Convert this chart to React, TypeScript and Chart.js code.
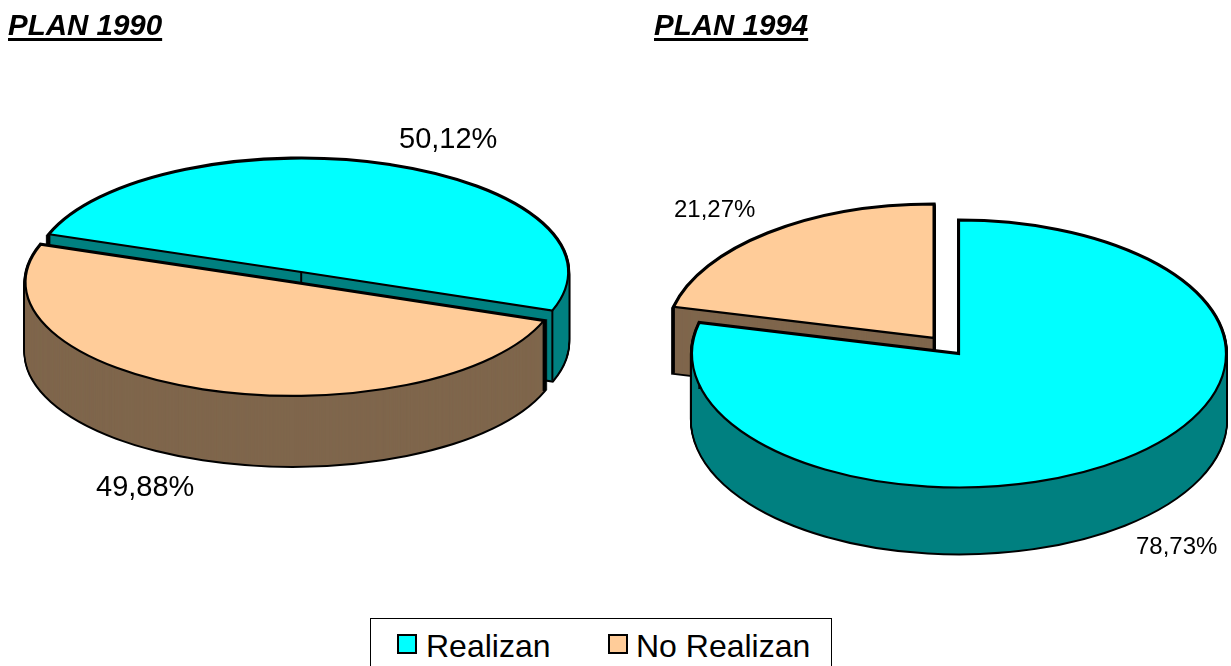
import React, { useEffect, useRef } from "react";
import { Chart, registerables } from "chart.js";

Chart.register(...registerables);

const categories = ["Realizan", "No Realizan"];
const plan1990Title = "PLAN 1990";
const plan1994Title = "PLAN 1994";
const plan1990Values = [50.12, 49.88];
const plan1994Values = [78.73, 21.27];
const topColors = ["#00FFFF", "#FFCC99"];
const sideColors = ["#008080", "#7F664C"];

const fmt = (v: number) => v.toFixed(2).replace(".", ",") + "%";
const FONT = '"Liberation Sans", Arial, sans-serif';

const extrudedPie = {
  id: "extrudedPie",
  beforeDatasetsDraw(chart: any, _args: any, opts: any) {
    const ctx = chart.ctx;
    const arcs = chart.getDatasetMeta(0).data;
    const { cx, cy, k, depth, order, explode } = opts;
    // keep line widths uniform although the path is built in a squashed space
    const origStroke = ctx.stroke;
    ctx.stroke = function () {
      ctx.save();
      ctx.setTransform(1, 0, 0, 1, 0, 0);
      origStroke.call(ctx);
      ctx.restore();
    };
    for (const i of order) {
      const arc = arcs[i];
      const side = sideColors[i];
      const mid = (arc.startAngle + arc.endAngle) / 2;
      const ox = Math.cos(mid) * explode[i];
      const oy = Math.sin(mid) * explode[i];
      const drawAt = (dy: number, over: any) => {
        const saved = arc.options;
        arc.options = { ...saved, ...over };
        ctx.save();
        ctx.translate(cx + ox, cy + k * oy + dy);
        ctx.scale(1, k);
        ctx.translate(-arc.x, -arc.y);
        arc.draw(ctx);
        ctx.restore();
        arc.options = saved;
      };
      for (let d = depth; d >= 0; d--) {
        drawAt(d, { backgroundColor: "#000", borderColor: "#000", borderWidth: 4 });
      }
      for (let d = depth; d >= 0; d--) {
        drawAt(d, { backgroundColor: side, borderWidth: 0 });
      }
      // vertical folds of the side faces
      const r = arc.outerRadius;
      const pts = [
        [ox, oy],
        [ox + r * Math.cos(arc.startAngle), oy + r * Math.sin(arc.startAngle)],
        [ox + r * Math.cos(arc.endAngle), oy + r * Math.sin(arc.endAngle)],
      ];
      ctx.save();
      ctx.strokeStyle = "#000";
      ctx.lineWidth = 2;
      for (const [px, py] of pts) {
        ctx.beginPath();
        ctx.moveTo(cx + px, cy + k * py);
        ctx.lineTo(cx + px, cy + k * py + depth);
        origStroke.call(ctx);
      }
      ctx.restore();
      drawAt(0, { backgroundColor: topColors[i], borderColor: "#000", borderWidth: 2.2 });
    }
    delete ctx.stroke;
    return false;
  },
};

function Pie({ left, width, values, rotation, radius, geom }: any) {
  const ref = useRef<HTMLCanvasElement>(null);
  useEffect(() => {
    const chart = new Chart(ref.current!, {
      type: "pie",
      data: {
        labels: categories,
        datasets: [
          {
            data: values,
            backgroundColor: topColors,
            borderColor: "#000",
            borderWidth: 2,
            borderJoinStyle: "miter",
            radius,
          } as any,
        ],
      },
      options: {
        animation: false,
        responsive: false,
        rotation,
        events: [],
        plugins: {
          legend: { display: false },
          tooltip: { enabled: false },
          extrudedPie: geom,
        } as any,
      },
      plugins: [extrudedPie],
    });
    return () => chart.destroy();
  }, []);
  return (
    <canvas
      ref={ref}
      width={width}
      height={666}
      style={{ position: "absolute", left, top: 0, width, height: 666 }}
    />
  );
}

const abs = (left: number, top: number, size: number, extra: any = {}): any => ({
  position: "absolute",
  left,
  top,
  fontSize: size,
  lineHeight: `${size}px`,
  fontFamily: FONT,
  color: "#000",
  whiteSpace: "nowrap",
  ...extra,
});

const titleStyle = {
  fontWeight: "bold",
  fontStyle: "italic",
  textDecoration: "underline",
  textDecorationThickness: 3,
  textUnderlineOffset: 3,
};

export default function App() {
  return (
    <div style={{ position: "fixed", left: 0, top: 0, width: 1231, height: 666, overflow: "hidden", background: "#fff" }}>
      <Pie
        left={0}
        width={615}
        values={plan1990Values}
        rotation={-70.6}
        radius={267}
        geom={{ cx: 297, cy: 277, k: 0.425, depth: 70, order: [0, 1], explode: [12.5, 13.5] }}
      />
      <Pie
        left={615}
        width={616}
        values={plan1994Values}
        rotation={0}
        radius={267}
        geom={{ cx: 344, cy: 354, k: 0.5, depth: 66, order: [1, 0], explode: [0, 41] }}
      />
      <div style={abs(8, 10, 29.5, titleStyle)}>{plan1990Title}</div>
      <div style={abs(654, 10, 29.5, titleStyle)}>{plan1994Title}</div>
      <div style={abs(399, 124, 29)}>{fmt(plan1990Values[0])}</div>
      <div style={abs(96, 472, 29)}>{fmt(plan1990Values[1])}</div>
      <div style={abs(674, 197, 24)}>{fmt(plan1994Values[1])}</div>
      <div style={abs(1136, 534, 24)}>{fmt(plan1994Values[0])}</div>
      <div style={{ position: "absolute", left: 370, top: 618, width: 460, height: 60, border: "1px solid #000", background: "#fff" }} />
      <div style={{ position: "absolute", left: 397, top: 634, width: 16, height: 16, border: "2px solid #000", background: topColors[0] }} />
      <div style={abs(426, 630, 32)}>{categories[0]}</div>
      <div style={{ position: "absolute", left: 608, top: 634, width: 16, height: 16, border: "2px solid #000", background: topColors[1] }} />
      <div style={abs(636, 630, 32)}>{categories[1]}</div>
    </div>
  );
}
